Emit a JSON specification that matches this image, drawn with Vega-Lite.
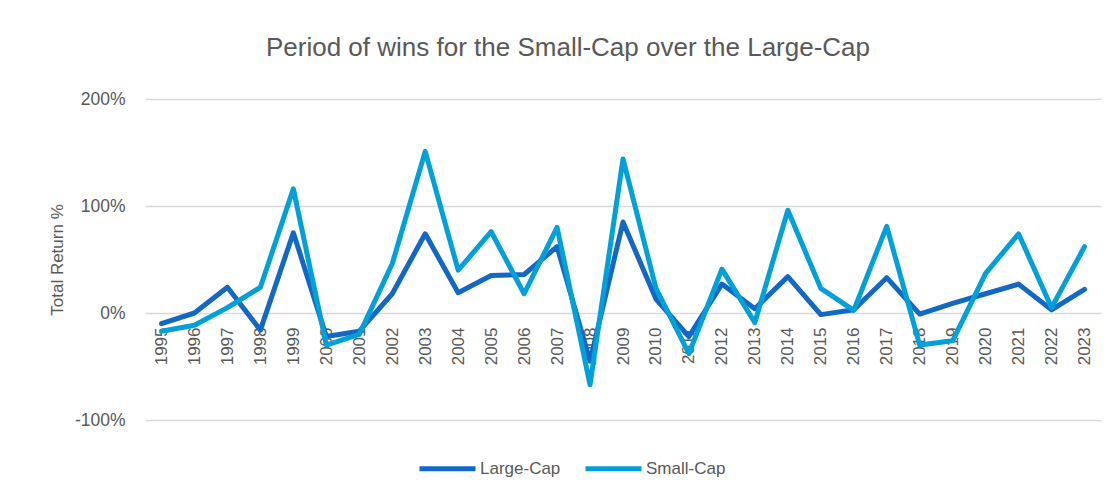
{
  "$schema": "https://vega.github.io/schema/vega-lite/v6.json",
  "width": 956,
  "height": 321,
  "autosize": {"type": "none"},
  "padding": {"left": 145, "top": 99, "right": 15, "bottom": 82},
  "background": "white",
  "title": {
    "text": "Period of wins for the Small-Cap over the Large-Cap",
    "font": "Liberation Sans",
    "fontSize": 26,
    "fontWeight": "normal",
    "color": "#595959",
    "anchor": "middle",
    "dx": -55,
    "offset": 29
  },
  "data": {
    "values": [
      {"year": "1995", "series": "Large-Cap", "value": -10},
      {"year": "1996", "series": "Large-Cap", "value": 0},
      {"year": "1997", "series": "Large-Cap", "value": 24},
      {"year": "1998", "series": "Large-Cap", "value": -16},
      {"year": "1999", "series": "Large-Cap", "value": 75},
      {"year": "2000", "series": "Large-Cap", "value": -22},
      {"year": "2001", "series": "Large-Cap", "value": -17},
      {"year": "2002", "series": "Large-Cap", "value": 18},
      {"year": "2003", "series": "Large-Cap", "value": 74},
      {"year": "2004", "series": "Large-Cap", "value": 19},
      {"year": "2005", "series": "Large-Cap", "value": 35},
      {"year": "2006", "series": "Large-Cap", "value": 36},
      {"year": "2007", "series": "Large-Cap", "value": 62},
      {"year": "2008", "series": "Large-Cap", "value": -45},
      {"year": "2009", "series": "Large-Cap", "value": 85},
      {"year": "2010", "series": "Large-Cap", "value": 13},
      {"year": "2011", "series": "Large-Cap", "value": -22},
      {"year": "2012", "series": "Large-Cap", "value": 27},
      {"year": "2013", "series": "Large-Cap", "value": 4},
      {"year": "2014", "series": "Large-Cap", "value": 34},
      {"year": "2015", "series": "Large-Cap", "value": -1.5},
      {"year": "2016", "series": "Large-Cap", "value": 3},
      {"year": "2017", "series": "Large-Cap", "value": 33},
      {"year": "2018", "series": "Large-Cap", "value": -1},
      {"year": "2019", "series": "Large-Cap", "value": 9},
      {"year": "2020", "series": "Large-Cap", "value": 18},
      {"year": "2021", "series": "Large-Cap", "value": 27},
      {"year": "2022", "series": "Large-Cap", "value": 3},
      {"year": "2023", "series": "Large-Cap", "value": 22},
      {"year": "1995", "series": "Small-Cap", "value": -17},
      {"year": "1996", "series": "Small-Cap", "value": -11.5},
      {"year": "1997", "series": "Small-Cap", "value": 5},
      {"year": "1998", "series": "Small-Cap", "value": 24},
      {"year": "1999", "series": "Small-Cap", "value": 116},
      {"year": "2000", "series": "Small-Cap", "value": -30},
      {"year": "2001", "series": "Small-Cap", "value": -20},
      {"year": "2002", "series": "Small-Cap", "value": 46},
      {"year": "2003", "series": "Small-Cap", "value": 151},
      {"year": "2004", "series": "Small-Cap", "value": 40},
      {"year": "2005", "series": "Small-Cap", "value": 76},
      {"year": "2006", "series": "Small-Cap", "value": 18},
      {"year": "2007", "series": "Small-Cap", "value": 80},
      {"year": "2008", "series": "Small-Cap", "value": -67},
      {"year": "2009", "series": "Small-Cap", "value": 144},
      {"year": "2010", "series": "Small-Cap", "value": 23},
      {"year": "2011", "series": "Small-Cap", "value": -38},
      {"year": "2012", "series": "Small-Cap", "value": 41},
      {"year": "2013", "series": "Small-Cap", "value": -9},
      {"year": "2014", "series": "Small-Cap", "value": 96},
      {"year": "2015", "series": "Small-Cap", "value": 23},
      {"year": "2016", "series": "Small-Cap", "value": 2.5},
      {"year": "2017", "series": "Small-Cap", "value": 81},
      {"year": "2018", "series": "Small-Cap", "value": -30},
      {"year": "2019", "series": "Small-Cap", "value": -26},
      {"year": "2020", "series": "Small-Cap", "value": 37},
      {"year": "2021", "series": "Small-Cap", "value": 74},
      {"year": "2022", "series": "Small-Cap", "value": 5},
      {"year": "2023", "series": "Small-Cap", "value": 62}
    ]
  },
  "mark": {"type": "line", "strokeWidth": 5, "strokeJoin": "round", "strokeCap": "round"},
  "encoding": {
    "x": {
      "field": "year",
      "type": "ordinal",
      "scale": {"paddingInner": 0, "paddingOuter": 0.5},
      "axis": {
        "title": null,
        "offset": -107,
        "domain": false,
        "ticks": false,
        "grid": false,
        "labelAngle": -90,
        "labelAlign": "right",
        "labelBaseline": "middle",
        "labelPadding": 14,
        "labelFont": "Liberation Sans",
        "labelFontSize": 17,
        "labelColor": "#595959"
      }
    },
    "y": {
      "field": "value",
      "type": "quantitative",
      "scale": {"domain": [-100, 200], "nice": false, "zero": false},
      "axis": {
        "title": "Total Return %",
        "titleFont": "Liberation Sans",
        "titleFontSize": 17,
        "titleFontWeight": "normal",
        "titleColor": "#595959",
        "titlePadding": 8,
        "values": [-100, 0, 100, 200],
        "labelExpr": "datum.value + '%'",
        "labelFont": "Liberation Sans",
        "labelFontSize": 17.5,
        "labelColor": "#595959",
        "labelPadding": 20,
        "domain": false,
        "ticks": false,
        "grid": true,
        "gridColor": "#d9d9d9",
        "gridWidth": 1.5
      }
    },
    "color": {
      "field": "series",
      "type": "nominal",
      "scale": {"domain": ["Large-Cap", "Small-Cap"], "range": ["#1268C4", "#00A0DA"]},
      "legend": {
        "title": null,
        "orient": "none",
        "direction": "horizontal",
        "legendX": 272,
        "legendY": 339,
        "symbolType": "stroke",
        "symbolSize": 3136,
        "symbolStrokeWidth": 5,
        "labelFont": "Liberation Sans",
        "labelFontSize": 17,
        "labelColor": "#595959",
        "labelOffset": 2,
        "columnPadding": 14
      }
    }
  },
  "config": {"view": {"stroke": null}}
}
